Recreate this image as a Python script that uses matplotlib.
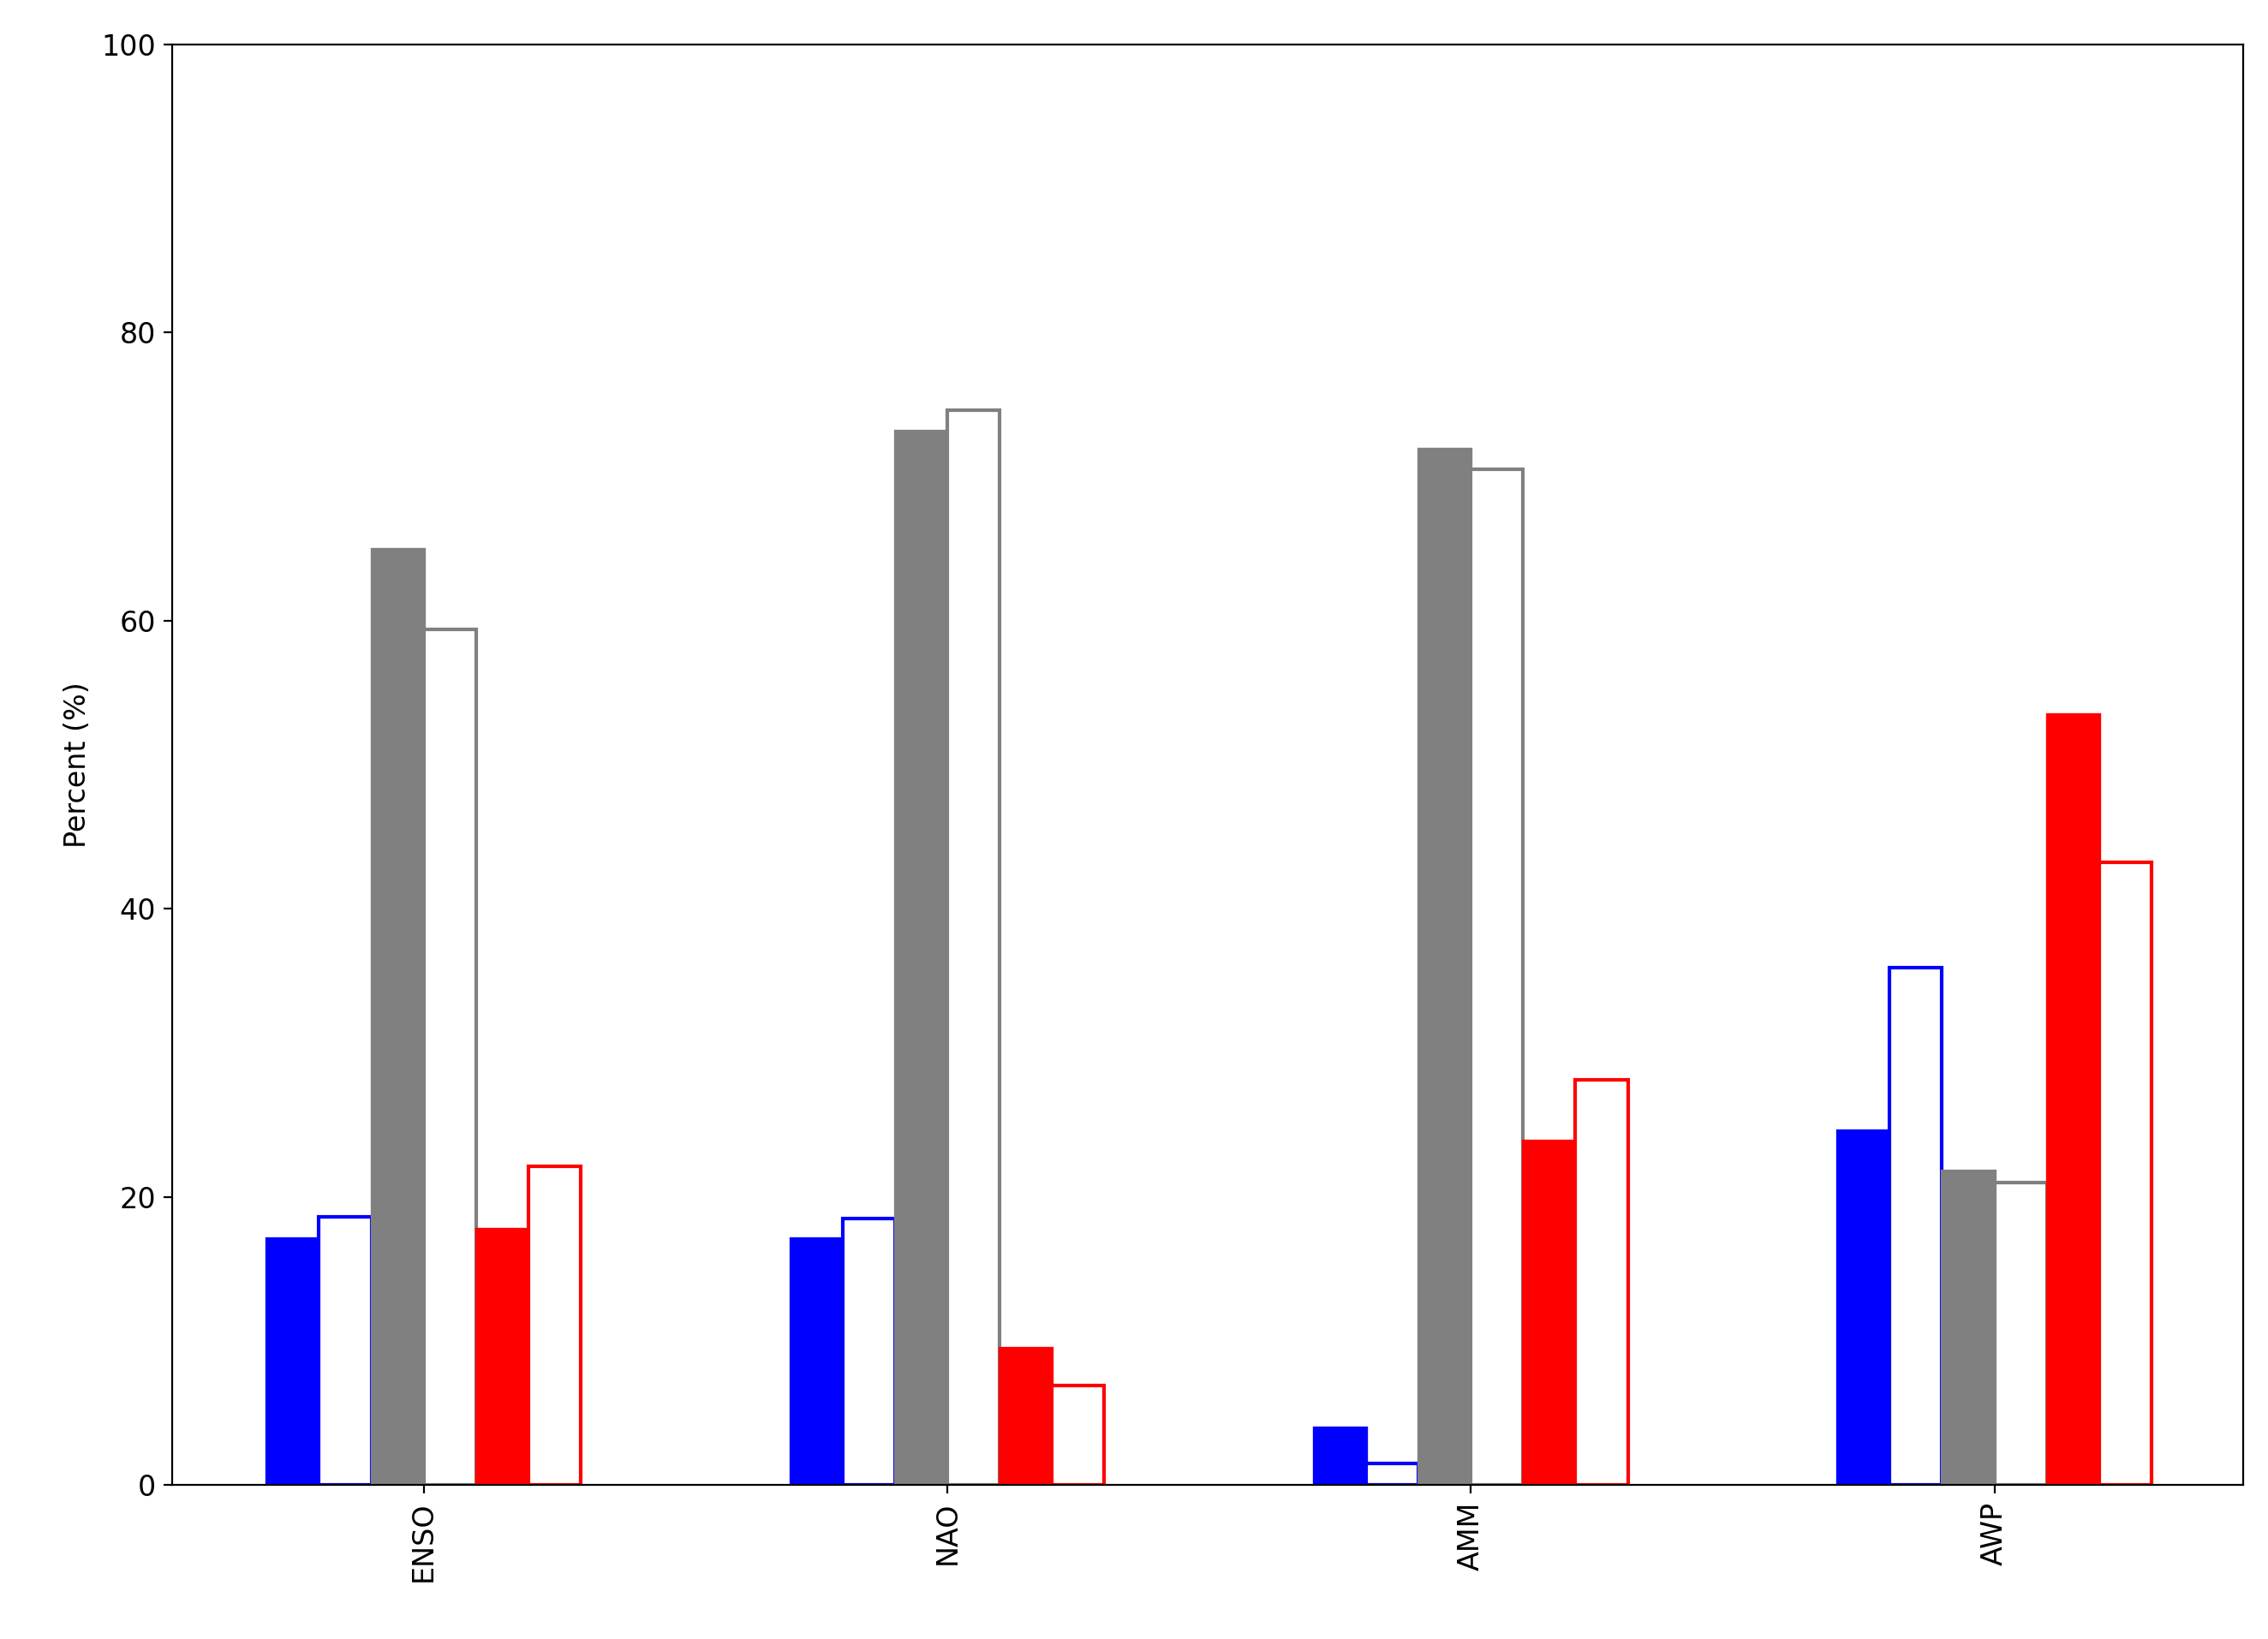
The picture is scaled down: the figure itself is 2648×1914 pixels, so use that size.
import matplotlib
matplotlib.use("Agg")
import matplotlib.pyplot as plt
import numpy as np

categories = ["ENSO", "NAO", "AMM", "AWP"]
blue_filled = [17.1, 17.1, 4.0, 24.6]
blue_open = [18.6, 18.5, 1.5, 35.9]
gray_filled = [65.0, 73.2, 71.9, 21.8]
gray_open = [59.4, 74.6, 70.5, 21.0]
red_filled = [17.8, 9.5, 23.9, 53.5]
red_open = [22.1, 6.9, 28.1, 43.2]

fig = plt.figure(figsize=(13.24, 9.57), dpi=200)
ax = fig.add_axes([0.076, 0.094, 0.913, 0.879])
x = np.arange(len(categories))
w = 0.1
series = [(blue_filled, "blue", True), (blue_open, "blue", False),
          (gray_filled, "gray", True), (gray_open, "gray", False),
          (red_filled, "red", True), (red_open, "red", False)]
for k, (vals, c, filled) in enumerate(series):
    pos = x - 0.25 + k * w
    if filled:
        ax.bar(pos, vals, w, color=c, edgecolor=c, linewidth=1.2)
    else:
        ax.bar(pos, vals, w, facecolor="white", edgecolor=c, linewidth=1.5)
ax.set_xlim(-0.48, 3.475)
ax.set_ylim(0, 100)
ax.set_xticks(x)
ax.set_xticklabels(categories, rotation=90, fontsize=12)
ax.tick_params(axis="y", labelsize=12)
ax.set_ylabel("Percent (%)", fontsize=12)
fig.savefig("out.png", dpi=200)
